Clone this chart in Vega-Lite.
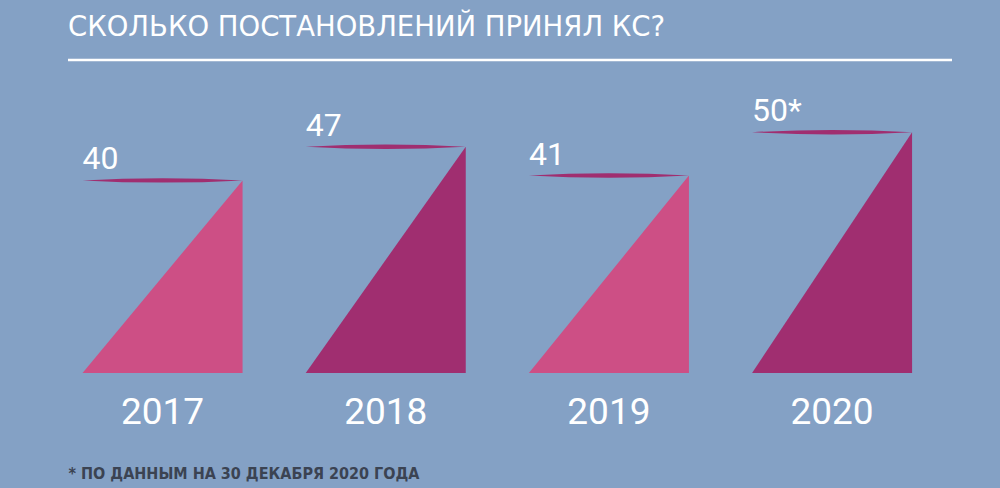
{
  "$schema": "https://vega.github.io/schema/vega-lite/v6.json",
  "autosize": "none",
  "width": 884,
  "height": 313,
  "padding": {"left": 68, "top": 60, "right": 48, "bottom": 115},
  "background": "#84a1c5",
  "config": {
    "view": {"stroke": null},
    "axisX": {
      "domain": false,
      "ticks": false,
      "tickSize": 0,
      "labelAngle": 0,
      "labelFont": "Roboto",
      "labelFontSize": 37,
      "labelColor": "#ffffff",
      "labelBaseline": "alphabetic",
      "labelPadding": 50,
      "titleAnchor": "start",
      "titleAlign": "left",
      "titleX": 0,
      "titleY": 105,
      "titleBaseline": "alphabetic",
      "titleFont": "DejaVu Sans Condensed",
      "titleFontSize": 16,
      "titleFontWeight": "bold",
      "titleColor": "#3b4352"
    }
  },
  "title": {
    "text": "СКОЛЬКО ПОСТАНОВЛЕНИЙ ПРИНЯЛ КС?",
    "anchor": "start",
    "frame": "group",
    "offset": 23,
    "dy": 28,
    "baseline": "alphabetic",
    "font": "DejaVu Sans",
    "fontSize": 27.5,
    "fontWeight": "normal",
    "color": "#ffffff"
  },
  "data": {
    "values": [
      {"year": "2017", "corner": "left", "value": 0, "label": ""},
      {"year": "2017", "corner": "right", "value": 40, "label": "40"},
      {"year": "2018", "corner": "left", "value": 0, "label": ""},
      {"year": "2018", "corner": "right", "value": 47, "label": "47"},
      {"year": "2019", "corner": "left", "value": 0, "label": ""},
      {"year": "2019", "corner": "right", "value": 41, "label": "41"},
      {"year": "2020", "corner": "left", "value": 0, "label": ""},
      {"year": "2020", "corner": "right", "value": 50, "label": "50*"}
    ]
  },
  "layer": [
    {
      "data": {"values": [{}]},
      "mark": {"type": "rule", "color": "#ffffff", "strokeWidth": 2.5},
      "encoding": {
        "y": {"datum": 65, "type": "quantitative", "scale": {"domain": [0, 65]}, "axis": null}
      }
    },
    {
      "mark": {"type": "area", "opacity": 1, "line": false},
      "encoding": {
        "x": {
          "field": "year",
          "type": "ordinal",
          "bandPosition": 0,
          "scale": {"paddingInner": 0.283, "paddingOuter": 0.122, "align": 0.267},
          "axis": {"title": "* ПО ДАННЫМ НА 30 ДЕКАБРЯ 2020 ГОДА"}
        },
        "xOffset": {"field": "corner", "type": "nominal", "sort": ["left", "right"], "scale": {"type": "point", "padding": 0}},
        "y": {"field": "value", "type": "quantitative", "stack": null, "scale": {"domain": [0, 65]}, "axis": null},
        "color": {
          "field": "year",
          "type": "nominal",
          "legend": null,
          "scale": {"domain": ["2017", "2018", "2019", "2020"], "range": ["#cd4f85", "#a02e70", "#cd4f85", "#a02e70"]}
        }
      }
    },
    {
      "transform": [{"filter": {"field": "corner", "equal": "right"}}],
      "mark": {
        "type": "point",
        "shape": "M -1 0 Q 0 -0.055 1 0 Q 0 0.055 -1 0 Z",
        "size": 25600,
        "filled": true,
        "color": "#a02e70",
        "opacity": 1,
        "strokeWidth": 0
      },
      "encoding": {
        "x": {"field": "year", "type": "ordinal", "axis": {"title": "* ПО ДАННЫМ НА 30 ДЕКАБРЯ 2020 ГОДА"}},
        "y": {"field": "value", "type": "quantitative", "axis": null}
      }
    },
    {
      "transform": [{"filter": {"field": "corner", "equal": "right"}}],
      "mark": {
        "type": "text",
        "align": "left",
        "baseline": "alphabetic",
        "dy": -11,
        "font": "Roboto",
        "fontSize": 32,
        "color": "#ffffff"
      },
      "encoding": {
        "x": {"field": "year", "type": "ordinal", "bandPosition": 0, "axis": {"title": "* ПО ДАННЫМ НА 30 ДЕКАБРЯ 2020 ГОДА"}},
        "y": {"field": "value", "type": "quantitative", "axis": null},
        "text": {"field": "label"}
      }
    }
  ]
}
